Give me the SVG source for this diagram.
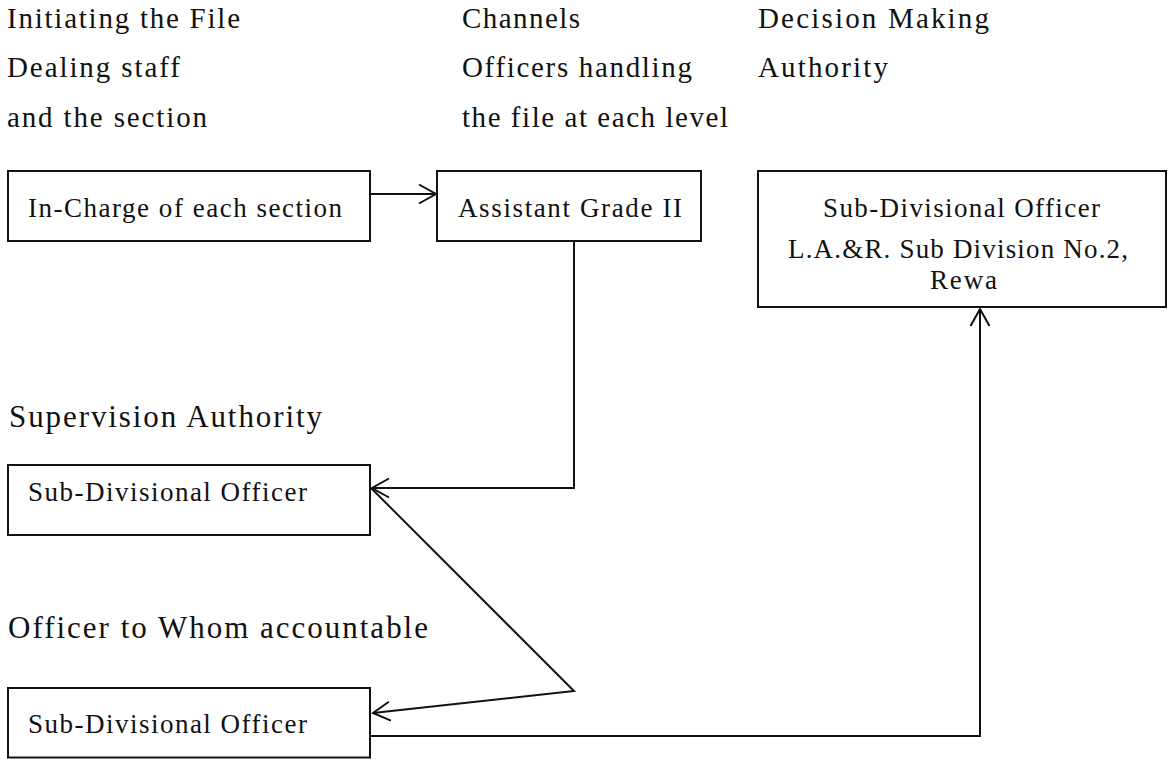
<svg xmlns="http://www.w3.org/2000/svg" width="1168" height="759" viewBox="0 0 1168 759">
<style>
text{font-family:"Liberation Serif","Times New Roman",serif;fill:#111}
.h{font-size:29px}
.b{font-size:27px}
.s{font-size:31px}
.box{fill:#fff;stroke:#111;stroke-width:2}
.c{fill:none;stroke:#111;stroke-width:2}
</style>
<defs>
<marker id="ah" markerUnits="userSpaceOnUse" markerWidth="24" markerHeight="24" viewBox="-20 -12 24 24" refX="0" refY="0" orient="auto">
<path d="M-17,-9.5 L0,0 L-17,9.5" fill="none" stroke="#111" stroke-width="2"/>
</marker>
</defs>
<rect width="1168" height="759" fill="#fff"/>
<g id="headers">
<text class="h" x="7" y="28" textLength="233" lengthAdjust="spacing">Initiating the File</text>
<text class="h" x="7" y="77" textLength="173" lengthAdjust="spacing">Dealing staff</text>
<text class="h" x="7" y="127" textLength="200" lengthAdjust="spacing">and the section</text>
<text class="h" x="462" y="28" textLength="118" lengthAdjust="spacing">Channels</text>
<text class="h" x="462" y="77" textLength="230" lengthAdjust="spacing">Officers handling</text>
<text class="h" x="462" y="127" textLength="266" lengthAdjust="spacing">the file at each level</text>
<text class="h" x="758" y="28" textLength="231" lengthAdjust="spacing">Decision Making</text>
<text class="h" x="758" y="77" textLength="130" lengthAdjust="spacing">Authority</text>
<text class="s" x="9" y="427" textLength="313" lengthAdjust="spacing">Supervision Authority</text>
<text class="s" x="8" y="638" textLength="420" lengthAdjust="spacing">Officer to Whom accountable</text>
</g>
<g id="connectors">
<line class="c" x1="370" y1="194" x2="436" y2="194" marker-end="url(#ah)"/>
<polyline class="c" points="574,240 574,488 372,488" marker-end="url(#ah)"/>
<polyline class="c" points="371,488 574,691 373,713" marker-end="url(#ah)"/>
<polyline class="c" points="370,736 980,736 980,309" marker-end="url(#ah)"/>
</g>
<g id="node-incharge">
<rect class="box" x="8" y="171" width="362" height="70"/>
<text class="b" x="28" y="217" textLength="314" lengthAdjust="spacing">In-Charge of each section</text>
</g>
<g id="node-assistant">
<rect class="box" x="437" y="171" width="264" height="70"/>
<text class="b" x="458" y="217" textLength="224" lengthAdjust="spacing">Assistant Grade II</text>
</g>
<g id="node-decision">
<rect class="box" x="758" y="171" width="408" height="136"/>
<text class="b" x="823" y="217" textLength="277" lengthAdjust="spacing">Sub-Divisional Officer</text>
<text class="b" x="788" y="258" textLength="340" lengthAdjust="spacing">L.A.&amp;R. Sub Division No.2,</text>
<text class="b" x="930" y="289" textLength="67" lengthAdjust="spacing">Rewa</text>
</g>
<g id="node-supervision">
<rect class="box" x="8" y="465" width="362" height="70"/>
<text class="b" x="28" y="501" textLength="279" lengthAdjust="spacing">Sub-Divisional Officer</text>
</g>
<g id="node-accountable">
<rect class="box" x="8" y="688" width="362" height="69.5"/>
<text class="b" x="28" y="733" textLength="279" lengthAdjust="spacing">Sub-Divisional Officer</text>
</g>
</svg>
